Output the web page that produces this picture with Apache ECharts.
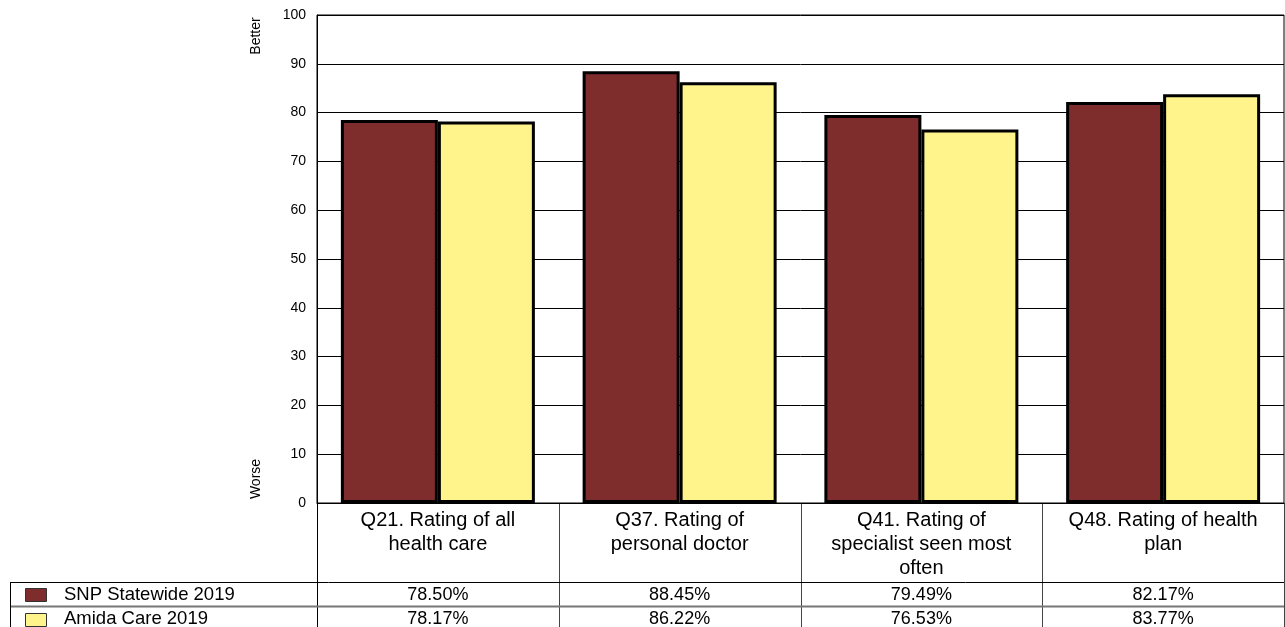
<!DOCTYPE html>
<html>
<head>
<meta charset="utf-8">
<script src="https://cdn.jsdelivr.net/npm/echarts@6/dist/echarts.min.js"></script>
<style>
html,body{margin:0;padding:0;background:#fff;}
#c{width:1285px;height:627px;}
</style>
</head>
<body>
<div id="c"></div>
<script>
var categories = ["Q21. Rating of all\nhealth care", "Q37. Rating of\npersonal doctor", "Q41. Rating of\nspecialist seen most\noften", "Q48. Rating of health\nplan"];
var seriesNames = ["SNP Statewide 2019", "Amida Care 2019"];
var snpValues = [78.50, 88.45, 79.49, 82.17];
var amidaValues = [78.17, 86.22, 76.53, 83.77];
var yTicks = [0, 10, 20, 30, 40, 50, 60, 70, 80, 90, 100];
var colors = ["#7F2C2C", "#FFF48C"];
var FONT = "Liberation Sans, Arial, sans-serif";

var chart = echarts.init(document.getElementById('c'), null, {renderer: 'canvas'});
var GL = 317, GT = 15, GR = 1, GH = 488;
var option = {
  animation: false,
  backgroundColor: '#fff',
  grid: {left: GL, top: GT, right: GR, height: GH, show: true, borderColor: '#000', borderWidth: 1},
  xAxis: {
    type: 'category',
    data: categories,
    axisLine: {lineStyle: {color: '#000', width: 1}},
    axisTick: {show: false},
    axisLabel: {fontSize: 20, color: '#000', fontFamily: FONT, lineHeight: 24, margin: 5, interval: 0, verticalAlign: 'top'}
  },
  yAxis: {
    type: 'value', min: yTicks[0], max: yTicks[yTicks.length - 1], interval: 10,
    axisLine: {show: true, lineStyle: {color: '#000', width: 1}},
    axisTick: {show: false},
    axisLabel: {fontSize: 14, color: '#000', fontFamily: FONT, margin: 11},
    splitLine: {lineStyle: {color: '#000', width: 1}}
  },
  series: [
    {name: seriesNames[0], type: 'bar', data: snpValues, barWidth: 97, barGap: '0%',
     itemStyle: {color: colors[0], borderColor: '#000', borderWidth: 3}},
    {name: seriesNames[1], type: 'bar', data: amidaValues, barWidth: 97, barGap: '0%',
     itemStyle: {color: colors[1], borderColor: '#000', borderWidth: 3}}
  ]
};
chart.setOption(option);

// table + legend graphics
var g = [];
var bottomY = GT + GH;
var row1 = 582, row2 = 606, endY = 627;
var colEdges = [];
var catW = (1285 - GL - GR) / categories.length;
for (var i = 0; i <= categories.length; i++) colEdges.push(GL + i * catW);
for (var i = 0; i <= categories.length; i++) {
  var x = Math.round(colEdges[i]) + 0.5;
  g.push({type: 'line', shape: {x1: x, y1: bottomY, x2: x, y2: endY}, style: {stroke: i === 0 ? '#000' : '#444', lineWidth: 1}, silent: true});
}
g.push({type: 'line', shape: {x1: 10, y1: row1 + 0.5, x2: 1284, y2: row1 + 0.5}, style: {stroke: '#000', lineWidth: 1}});
g.push({type: 'line', shape: {x1: 10, y1: row2 + 0.5, x2: 1284, y2: row2 + 0.5}, style: {stroke: '#777', lineWidth: 2}});
g.push({type: 'line', shape: {x1: 10.5, y1: row1, x2: 10.5, y2: endY}, style: {stroke: '#000', lineWidth: 1}});
var rows = [snpValues, amidaValues];
var rowMid = [595, 619];
var boxTop = [588, 613];
for (var r = 0; r < rows.length; r++) {
  g.push({type: 'rect', shape: {x: 25.5, y: boxTop[r] + 0.5, width: 21, height: 13}, style: {fill: colors[r], stroke: '#333', lineWidth: 1}});
  g.push({type: 'text', style: {x: 64, y: rowMid[r], text: seriesNames[r], fontSize: 18.5, fontFamily: FONT, fill: '#000', textVerticalAlign: 'middle', verticalAlign: 'middle'}});
  for (var c = 0; c < rows[r].length; c++) {
    var cx = chart.convertToPixel({xAxisIndex: 0}, c);
    g.push({type: 'text', style: {x: cx, y: rowMid[r], text: rows[r][c].toFixed(2) + '%', fontSize: 18, fontFamily: FONT, fill: '#000', align: 'center', textAlign: 'center', verticalAlign: 'middle', textVerticalAlign: 'middle'}});
  }
}
g.push({type: 'text', rotation: Math.PI / 2, x: 256, y: 36, style: {x: 0, y: 0, text: 'Better', fontSize: 14, fontFamily: FONT, fill: '#000', align: 'center', textAlign: 'center', verticalAlign: 'middle', textVerticalAlign: 'middle'}});
g.push({type: 'text', rotation: Math.PI / 2, x: 256, y: 479, style: {x: 0, y: 0, text: 'Worse', fontSize: 14, fontFamily: FONT, fill: '#000', align: 'center', textAlign: 'center', verticalAlign: 'middle', textVerticalAlign: 'middle'}});
chart.setOption({graphic: g});
</script>
</body>
</html>
